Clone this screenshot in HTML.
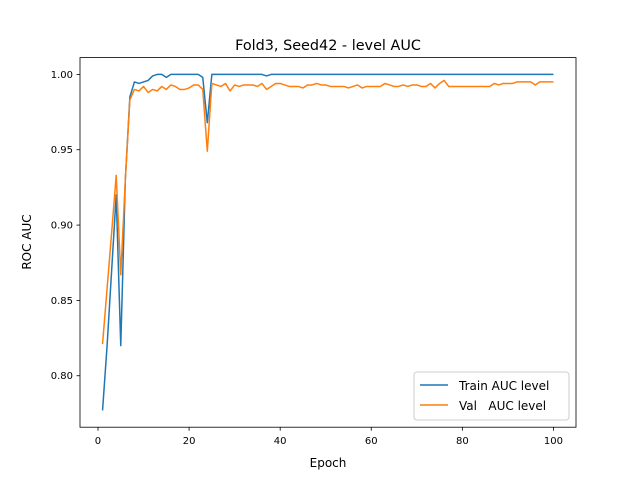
<!DOCTYPE html>
<html><head><meta charset="utf-8"><style>
body{margin:0;background:#fff}
svg text{font-family:"DejaVu Sans","Liberation Sans",sans-serif;fill:#000}
</style></head><body>
<svg id="chart" width="640" height="480" xmlns="http://www.w3.org/2000/svg">
<rect width="640" height="480" fill="#fff"/>
<text x="328" y="50" font-size="14.4" text-anchor="middle">Fold3, Seed42 - level AUC</text>
<g id="grid"></g>
<g id="lines"></g>
<rect x="80" y="57.6" width="496" height="369.6" fill="none" stroke="#000" stroke-width="0.8"/>
<text x="328" y="467" font-size="12" text-anchor="middle">Epoch</text>
<text transform="translate(31,242) rotate(-90)" font-size="12" text-anchor="middle">ROC AUC</text>
<g>
<rect x="414" y="372" width="155" height="48" rx="3" fill="#fff" fill-opacity="0.8" stroke="#ccc"/>
<line x1="420" y1="385" x2="448" y2="385" stroke="#1f77b4" stroke-width="1.5"/>
<text x="459" y="390" font-size="12">Train AUC level</text>
<line x1="420" y1="405" x2="448" y2="405" stroke="#ff7f0e" stroke-width="1.5"/>
<text x="459" y="410" font-size="12" xml:space="preserve">Val   AUC level</text>
</g>
</svg>
<script>
const train=[0.777,0.82,0.87,0.92,0.82,0.93,0.985,0.995,0.994,0.995,0.996,0.999,1.0,1.0,0.998,1.0,1.0,1.0,1.0,1.0,1.0,1.0,0.998,0.968,1.0,1.0,1.0,1.0,1.0,1.0,1.0,1.0,1.0,1.0,1.0,1.0,0.999,1.0,1.0,1.0,1.0,1.0,1.0,1.0,1.0,1.0,1.0,1.0,1.0,1.0,1.0,1.0,1.0,1.0,1.0,1.0,1.0,1.0,1.0,1.0,1.0,1.0,1.0,1.0,1.0,1.0,1.0,1.0,1.0,1.0,1.0,1.0,1.0,1.0,1.0,1.0,1.0,1.0,1.0,1.0,1.0,1.0,1.0,1.0,1.0,1.0,1.0,1.0,1.0,1.0,1.0,1.0,1.0,1.0,1.0,1.0,1.0,1.0,1.0,1.0];
const val=[0.821,0.858,0.895,0.933,0.867,0.93,0.983,0.990,0.989,0.992,0.988,0.990,0.989,0.992,0.990,0.993,0.992,0.990,0.990,0.991,0.993,0.993,0.990,0.949,0.994,0.993,0.992,0.994,0.989,0.993,0.992,0.993,0.993,0.993,0.992,0.994,0.990,0.992,0.994,0.994,0.993,0.992,0.992,0.992,0.991,0.993,0.993,0.994,0.993,0.993,0.992,0.992,0.992,0.992,0.991,0.992,0.993,0.991,0.992,0.992,0.992,0.992,0.994,0.993,0.992,0.992,0.993,0.992,0.993,0.993,0.992,0.992,0.994,0.991,0.994,0.996,0.992,0.992,0.992,0.992,0.992,0.992,0.992,0.992,0.992,0.992,0.994,0.993,0.994,0.994,0.994,0.995,0.995,0.995,0.995,0.993,0.995,0.995,0.995,0.995];
const xTicks=[0,20,40,60,80,100];
const yTicks=[0.80,0.85,0.90,0.95,1.00];
const NS="http://www.w3.org/2000/svg";
const L=80,R=576,T=57.6,B=427.2;
const n=train.length;
const xmin=1-(n-1)*0.05,xmax=n+(n-1)*0.05;
const all=train.concat(val);
const dmin=Math.min(...all),dmax=Math.max(...all),pad=(dmax-dmin)*0.05;
const ymin=dmin-pad,ymax=dmax+pad;
const X=v=>L+(v-xmin)/(xmax-xmin)*(R-L);
const Y=v=>B-(v-ymin)/(ymax-ymin)*(B-T);
const g=document.getElementById('grid');
xTicks.forEach(t=>{
 const l=document.createElementNS(NS,'line');
 l.setAttribute('x1',X(t));l.setAttribute('x2',X(t));l.setAttribute('y1',B);l.setAttribute('y2',B+3.5);l.setAttribute('stroke','#000');l.setAttribute('stroke-width','0.8');
 
 
 g.appendChild(l);
 const tx=document.createElementNS(NS,'text');
 tx.setAttribute('x',X(t));tx.setAttribute('y',B+17);tx.setAttribute('font-size','10');tx.setAttribute('text-anchor','middle');tx.textContent=t;
 
 
 g.appendChild(tx);
});
yTicks.forEach(t=>{
 const l=document.createElementNS(NS,'line');
 l.setAttribute('x1',L-3.5);l.setAttribute('x2',L);l.setAttribute('y1',Y(t));l.setAttribute('y2',Y(t));l.setAttribute('stroke','#000');l.setAttribute('stroke-width','0.8');
 
 
 g.appendChild(l);
 const tx=document.createElementNS(NS,'text');
 tx.setAttribute('x',L-7);tx.setAttribute('y',Y(t)+3.5);tx.setAttribute('font-size','10');tx.setAttribute('text-anchor','end');tx.textContent=t.toFixed(2);
 
 
 g.appendChild(tx);
});
const lg=document.getElementById('lines');
[[train,'#1f77b4','train-auc-line'],[val,'#ff7f0e','val-auc-line']].forEach(([d,c,nm])=>{
 const p=document.createElementNS(NS,'polyline');
 p.setAttribute('points',d.map((v,i)=>X(i+1).toFixed(2)+','+Y(v).toFixed(2)).join(' '));
 p.setAttribute('fill','none');p.setAttribute('stroke',c);p.setAttribute('stroke-width','1.5');p.setAttribute('stroke-linejoin','round');
 
 
 lg.appendChild(p);
});
</script>
</body></html>
